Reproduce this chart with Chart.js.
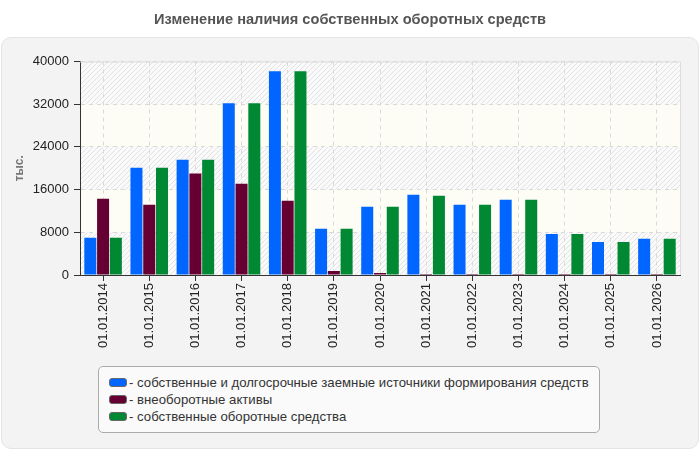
<!DOCTYPE html>
<html><head><meta charset="utf-8">
<script src="https://cdn.jsdelivr.net/npm/chart.js@4/dist/chart.umd.min.js"></script>
<style>
html,body{margin:0;padding:0;background:#fff;}
#wrap{position:relative;width:700px;height:450px;overflow:hidden;font-family:"Liberation Sans",Arial,sans-serif;}
#panel{position:absolute;left:1px;top:37px;width:696px;height:410px;background:#f3f3f3;border:1px solid #e4e4e4;border-radius:10px;}
#c{position:absolute;left:0;top:0;}
#legend{position:absolute;left:98px;top:366px;width:502px;height:67px;background:#fafafa;border:1px solid #aaa;border-radius:5px;box-sizing:border-box;padding:8px 0 0 10px;font-size:13.2px;color:#333;}
#legend div{height:17px;line-height:16px;white-space:nowrap;}
#legend span.sw{display:inline-block;width:16px;height:7px;border-radius:3px;border:1px solid #666;margin-right:2px;vertical-align:0px;}
</style></head>
<body><div id="wrap"><div id="panel"></div><canvas id="c" width="700" height="450"></canvas><div id="legend"></div></div>
<script>
const categories = ["01.01.2014","01.01.2015","01.01.2016","01.01.2017","01.01.2018","01.01.2019","01.01.2020","01.01.2021","01.01.2022","01.01.2023","01.01.2024","01.01.2025","01.01.2026"];
const ownAndLongTerm = [7000,20100,21600,32200,38200,8650,12800,15050,13150,14100,7700,6200,6800];
const nonCurrentAssets = [14300,13150,19000,17100,13900,750,380,190,190,190,190,190,190];
const ownWorkingCapital = [7000,20100,21600,32200,38200,8650,12800,14850,13150,14100,7700,6200,6800];
const seriesNames = ["собственные и долгосрочные заемные источники формирования средств","внеоборотные активы","собственные оборотные средства"];
const seriesColors = ["#0066ff","#660033","#008833"];
const yTicksMax = 40000, yStep = 8000;

const pc = document.createElement('canvas'); pc.width = 5; pc.height = 5;
const px = pc.getContext('2d');
px.fillStyle = '#fafafa'; px.fillRect(0,0,5,5);
px.strokeStyle = '#e2e2e2'; px.lineWidth = 1;
px.beginPath(); px.moveTo(-1,6); px.lineTo(6,-1); px.moveTo(-1,1); px.lineTo(1,-1); px.moveTo(4,6); px.lineTo(6,4); px.stroke();

const bgPlugin = {
  id:'bg',
  beforeDraw(chart){
    const {ctx, chartArea:a, scales:{y}} = chart;
    ctx.save();
    const pat = ctx.createPattern(pc,'repeat');
    ctx.fillStyle = pat; ctx.fillRect(a.left,a.top,a.right-a.left,a.bottom-a.top);
    ctx.fillStyle = '#fdfdf6';
    for (let v = yStep; v < yTicksMax; v += 2*yStep) {
      const y1 = y.getPixelForValue(v+yStep), y2 = y.getPixelForValue(v);
      ctx.fillRect(a.left, y1, a.right-a.left, y2-y1);
    }
    ctx.restore();
  },
  afterDraw(chart){
    const {ctx, chartArea:a} = chart;
    ctx.save(); ctx.strokeStyle='#dddddd'; ctx.lineWidth=1;
    ctx.beginPath(); ctx.moveTo(a.left, a.top+0.5); ctx.lineTo(a.right+0.5, a.top+0.5); ctx.lineTo(a.right+0.5, a.bottom); ctx.stroke();
    ctx.restore();
  }
};

const font = {family:'"Liberation Sans", Arial, sans-serif', size:13};
const chart = new Chart(document.getElementById('c'), {
  type:'bar',
  data:{
    labels: categories,
    datasets:[
      {label:seriesNames[0], data:ownAndLongTerm, backgroundColor:seriesColors[0]},
      {label:seriesNames[1], data:nonCurrentAssets, backgroundColor:seriesColors[1]},
      {label:seriesNames[2], data:ownWorkingCapital, backgroundColor:seriesColors[2]}
    ]
  },
  options:{
    responsive:false, animation:false,
    layout:{padding:{left:0,right:0,top:0,bottom:75}},
    datasets:{bar:{categoryPercentage:0.83, barPercentage:0.94}},
    plugins:{
      legend:{display:false}, tooltip:{enabled:false},
      title:{display:true, text:'Изменение наличия собственных оборотных средств', color:'#555', font:{family:font.family, size:14.6, weight:'bold'}, padding:{top:11, bottom:33}}
    },
    scales:{
      x:{
        grid:{offset:false, color:'#d9d9d9', tickColor:'#333', tickLength:6, drawOnChartArea:true},
        border:{color:'#333', dash:[4,4]},
        ticks:{minRotation:90, maxRotation:90, color:'#222', font, padding:2, autoSkip:false},
        afterFit(s){ s.height = 100; }
      },
      y:{
        min:0, max:yTicksMax,
        ticks:{stepSize:yStep, color:'#222', font, padding:5, callback:(v)=>String(v)},
        grid:{color:'#d9d9d9', tickColor:'#333', tickLength:6},
        border:{color:'#333', dash:[4,4]},
        title:{display:true, text:'тыс.', color:'#777', font:{family:font.family, size:12, weight:'bold'}, padding:{top:12,bottom:4}},
        afterFit(s){ s.width = 80; }
      },
      yPad:{
        position:'right', min:0, max:yTicksMax,
        grid:{display:false, drawTicks:false}, border:{display:false}, ticks:{display:false},
        afterFit(s){ s.width = 20; }
      }
    }
  },
  plugins:[bgPlugin]
});

const lg = document.getElementById('legend');
chart.data.datasets.forEach(ds => {
  const d = document.createElement('div');
  const sw = document.createElement('span'); sw.className='sw'; sw.style.background = ds.backgroundColor;
  d.appendChild(sw); d.appendChild(document.createTextNode('- ' + ds.label));
  lg.appendChild(d);
});
</script></body></html>
